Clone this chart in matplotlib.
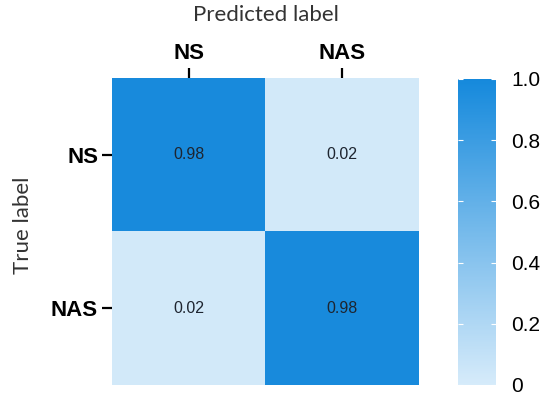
import numpy as np
import matplotlib
matplotlib.use("Agg")
import matplotlib.pyplot as plt
from matplotlib.colors import LinearSegmentedColormap

plt.rcParams["font.family"] = ["Liberation Sans", "DejaVu Sans"]

classes = ["NS", "NAS"]
cm_values = [
    [0.98, 0.02],
    [0.02, 0.98],
]
cbar_ticks = [0, 0.2, 0.4, 0.6, 0.8, 1.0]
cbar_labels = ["0", "0.2", "0.4", "0.6", "0.8", "1.0"]

cmap = LinearSegmentedColormap.from_list("blues_cm", ["#D6EBFA", "#1589DC"])

W, H = 545, 398
fig = plt.figure(figsize=(W / 100, H / 100), dpi=100)

ax = fig.add_axes([112 / W, 13 / H, 307 / W, 307 / H])
cax = fig.add_axes([458 / W, 13 / H, 38 / W, 306 / H])

cm = np.array(cm_values)
im = ax.imshow(cm, cmap=cmap, vmin=0, vmax=1, aspect="auto")

for i in range(len(classes)):
    for j in range(len(classes)):
        ax.text(j, i, f"{cm[i, j]:.2f}", ha="center", va="center",
                fontsize=11.5, color="#1e2530")

ax.xaxis.tick_top()
ax.set_xticks(range(len(classes)))
ax.set_yticks(range(len(classes)))
ax.set_xticklabels(classes, fontsize=16, fontweight="bold")
ax.set_yticklabels(classes, fontsize=16, fontweight="bold")
ax.tick_params(axis="both", length=7, width=1.6, color="black", pad=3)
for s in ax.spines.values():
    s.set_visible(False)

cbar = fig.colorbar(im, cax=cax, ticks=cbar_ticks)
cbar.outline.set_visible(False)
cbar.ax.set_yticklabels(cbar_labels)
cbar.ax.tick_params(direction="in", left=True, right=True, color="white",
                    length=3.5, width=0.8, labelsize=15, pad=11)

fig.text(266 / W, 1 - 15 / H, "Predicted label", ha="center", va="center",
         fontsize=16, family=["Lato", "DejaVu Sans"], color="#333333")
fig.text(23 / W, 1 - 225 / H, "True label", ha="center", va="center",
         rotation=90, fontsize=16, family=["Lato", "DejaVu Sans"],
         color="#333333")

fig.savefig("out.png", dpi=100)
